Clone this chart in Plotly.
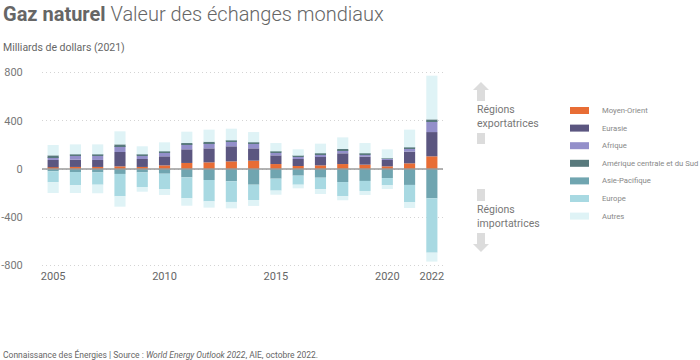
import plotly.graph_objects as go

years = list(range(2005, 2023))

# Exporting regions (positive, billions USD 2021)
moyen_orient = [14, 17, 17, 22, 17, 30, 50, 55, 63, 69, 41, 25, 30, 41, 36, 22, 47, 105]
eurasie = [61, 60, 58, 119, 66, 75, 113, 116, 125, 102, 72, 58, 75, 89, 66, 53, 97, 201]
afrique = [24, 33, 35, 49, 27, 33, 41, 44, 36, 39, 22, 19, 16, 25, 17, 8, 22, 89]
amerique = [14, 11, 11, 14, 11, 8, 11, 11, 13, 11, 11, 8, 9, 11, 11, 5, 13, 16]
autres_export = [86, 83, 83, 108, 67, 75, 94, 100, 97, 85, 69, 53, 80, 96, 85, 75, 147, 362]

# Importing regions (negative)
asie_pacifique = [-19, -25, -28, -41, -28, -39, -69, -91, -102, -130, -80, -55, -72, -108, -99, -75, -132, -243]
europe = [-91, -110, -102, -185, -121, -127, -174, -177, -171, -127, -99, -75, -96, -118, -83, -60, -144, -450]
autres_import = [-89, -64, -71, -86, -39, -49, -61, -52, -53, -49, -34, -30, -39, -33, -33, -31, -47, -74]

tick_years = [2005, 2010, 2015, 2020, 2022]
y_ticks = [-800, -400, 0, 400, 800]

names = ["Moyen-Orient", "Eurasie", "Afrique", "Amérique centrale et du Sud",
         "Asie-Pacifique", "Europe", "Autres"]
colors = ["#e86d35", "#5b5680", "#938fca", "#58797c", "#70a5b0", "#a8d9e2", "#dff3f6"]

FONT = "Roboto"

fig = go.Figure()
series = [
    (moyen_orient, 0), (eurasie, 1), (afrique, 2), (amerique, 3), (autres_export, 6),
    (asie_pacifique, 4), (europe, 5), (autres_import, 6),
]
for vals, ci in series:
    fig.add_trace(go.Bar(
        x=years, y=vals, name=names[ci], marker_color=colors[ci],
        marker_line_width=0, showlegend=False,
        hovertemplate=names[ci] + " %{x}: %{y}<extra></extra>",
    ))

# plot area in pixels
L, R, T, B = 42, 443, 70, 268
W, H = R - L, B - T


def px(x):
    return (x - L) / W


def py(y):
    return (B - y) / H


shapes = []
annotations = []

# zero line above bars
shapes.append(dict(type="line", xref="paper", yref="y", x0=0, x1=1, y0=0, y1=0,
                   line=dict(color="#9a9a9a", width=1.5), layer="above"))

# manual legend
leg_y0 = 110.5
leg_step = 17.6
for i, (n, c) in enumerate(zip(names, colors)):
    yc = leg_y0 + i * leg_step
    shapes.append(dict(type="rect", xref="paper", yref="paper",
                       x0=px(570), x1=px(589), y0=py(yc - 3.5), y1=py(yc + 3.5),
                       fillcolor=c, line=dict(width=0), layer="above"))
    annotations.append(dict(xref="paper", yref="paper", x=px(600), y=py(yc),
                            xanchor="left", yanchor="middle", showarrow=False,
                            text=n, font=dict(family=FONT, size=7.7, color="#888")))

arrow_col = "#dcdcdc"


def poly(points):
    d = "M " + " L ".join(f"{px(a):.5f},{py(b):.5f}" for a, b in points) + " Z"
    return dict(type="path", xref="paper", yref="paper", path=d,
                fillcolor=arrow_col, line=dict(width=0), layer="above")


# up arrow
shapes.append(poly([(481, 82), (489, 90), (485, 90), (485, 101), (477, 101), (477, 90), (473, 90)]))
# small bars
shapes.append(poly([(477, 133), (485, 133), (485, 144), (477, 144)]))
shapes.append(poly([(477, 189), (485, 189), (485, 201), (477, 201)]))
# down arrow
shapes.append(poly([(477, 233), (485, 233), (485, 244), (489, 244), (481, 252), (473, 244), (477, 244)]))

annotations.append(dict(xref="paper", yref="paper", x=px(475), y=py(116.5),
                        xanchor="left", yanchor="middle", showarrow=False, align="left",
                        text="Régions<br>exportatrices",
                        font=dict(family=FONT, size=10.5, color="#777")))
annotations.append(dict(xref="paper", yref="paper", x=px(475), y=py(216.5),
                        xanchor="left", yanchor="middle", showarrow=False, align="left",
                        text="Régions<br>importatrices",
                        font=dict(family=FONT, size=10.5, color="#777")))

# title, subtitle, footer
annotations.append(dict(xref="paper", yref="paper", x=px(1), y=py(14),
                        xanchor="left", yanchor="middle", showarrow=False,
                        text="<b>Gaz naturel</b> Valeur des échanges mondiaux",
                        font=dict(family=FONT, size=20, color="#666", weight=300)))
annotations.append(dict(xref="paper", yref="paper", x=px(1), y=py(48),
                        xanchor="left", yanchor="middle", showarrow=False,
                        text="Milliards de dollars (2021)",
                        font=dict(family=FONT, size=10.5, color="#666")))
annotations.append(dict(xref="paper", yref="paper", x=px(1), y=py(354),
                        xanchor="left", yanchor="middle", showarrow=False,
                        text="Connaissance des Énergies | Source : <i>World Energy Outlook 2022</i>, AIE, octobre 2022.",
                        font=dict(family=FONT, size=8.5, color="#666")))

fig.update_layout(
    width=700, height=360,
    margin=dict(l=L, r=700 - R, t=T, b=360 - B, autoexpand=False),
    paper_bgcolor="white", plot_bgcolor="white",
    barmode="relative", bargap=0.5,
    showlegend=False,
    shapes=shapes, annotations=annotations,
    font=dict(family=FONT, color="#777"),
    xaxis=dict(range=[2004.5, 2022.5], tickmode="array", tickvals=tick_years,
               ticktext=[str(t) for t in tick_years], showgrid=False, zeroline=False,
               showline=False, ticks="", tickfont=dict(size=11, color="#666"),
               automargin=False, fixedrange=True),
    yaxis=dict(range=[-820, 820], tickmode="array", tickvals=y_ticks,
               ticktext=[str(t) for t in y_ticks], showgrid=True, gridcolor="#d4d4d4",
               griddash="1px,3px", gridwidth=1, zeroline=False, showline=False,
               ticks="outside", ticklen=16, tickcolor="rgba(0,0,0,0)",
               automargin=False,
               tickfont=dict(size=11, color="#777"), fixedrange=True),
)

# remove the default page margin synchronously (runs right after newPlot is called)
reset_css = ("}); document.body.style.margin='0'; document.body.style.overflow='hidden'; "
             "Promise.resolve().then(function(){")

fig.write_html("out.html", config={"displayModeBar": False}, post_script=reset_css)
